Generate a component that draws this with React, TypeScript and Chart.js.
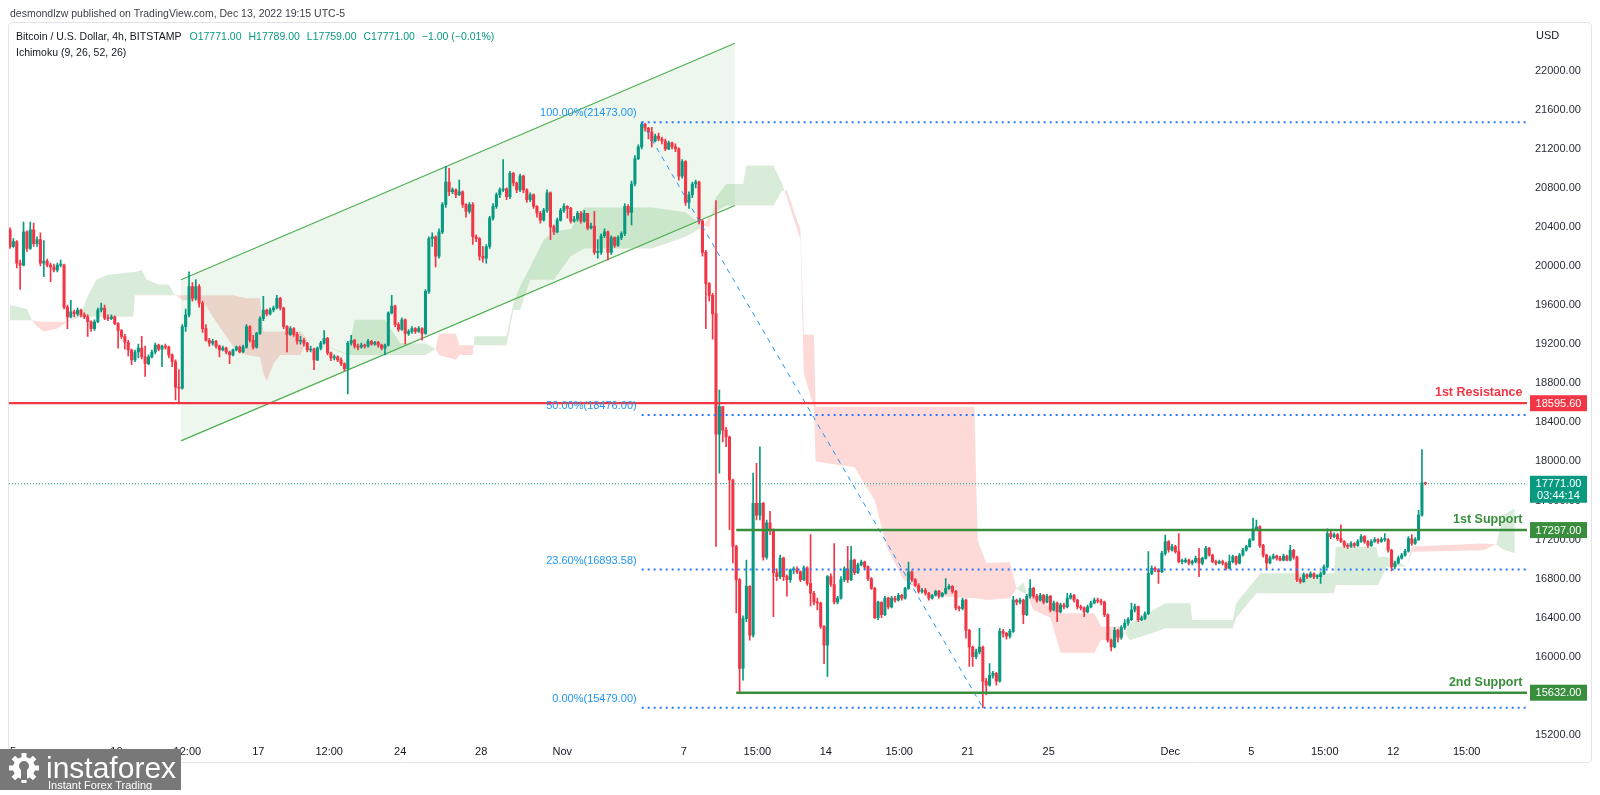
import React, { useEffect, useRef } from "react";
import { Chart, registerables } from "chart.js";

Chart.register(...registerables);

const FONT = "'Liberation Sans', Arial, sans-serif";
const UP = "#089981";
const DOWN = "#f23645";
const SUP = "#388e3c";
const FIB = "#2196f3";

// ---- 4h candles (BTC/USD, Bitstamp), index 0 = Oct 4 late, last = Dec 13 ----
const firstOpen = 20370;
const closes1 = [
  20200,20250,20030,20010,20350,20180,20370,20230,20270,20030,
  20050,20010,19990,19960,20010,20010,19580,19480,19530,19510,
  19550,19500,19480,19430,19360,19430,19550,19570,19470,19460,
  19480,19410,19340,19280,19220,19140,19040,19120,19160,19070,
  19000,19070,19120,19190,19150,19180,19170,19090,19020,18760,
  18750,19380,19500,19790,19670,19790,19620,19360,19240,19210,
  19230,19180,19140,19160,19120,19090,19140,19170,19120,19170,
];
const highs1 = [
  20390,20280,20260,20060,20450,20360,20450,20440,20300,20340,
  20260,20070,20030,20020,20030,20060,20020,19600,19650,19550,
  19570,19560,19520,19500,19440,19450,19570,19620,19600,19500,
  19500,19490,19420,19350,19300,19240,19150,19140,19200,19280,
  19180,19090,19140,19210,19200,19190,19200,19180,19100,19040,
  18940,19400,19560,19940,19830,19860,19810,19640,19400,19260,
  19250,19240,19190,19180,19170,19130,19150,19180,19180,19190,
];
const lows1 = [
  20180,20190,19980,19760,20000,20150,20170,20200,20200,20000,
  19890,19990,19840,19940,19940,19990,19560,19360,19470,19480,
  19490,19480,19460,19280,19330,19340,19420,19530,19450,19440,
  19450,19400,19160,19260,19150,19080,18990,19020,19060,19050,
  18870,18990,19060,19100,19130,18970,19150,19060,18970,18630,
  18600,18740,19330,19480,19640,19650,19580,19320,19230,19180,
  19190,19160,19070,19130,19100,19000,19080,19130,19110,19110,
];
const closes2 = [
  19380,19240,19170,19310,19460,19550,19510,19550,19570,19670,
  19570,19380,19300,19360,19300,19230,19240,19210,19140,19150,
  19040,19160,19210,19260,19110,19060,19070,19040,19000,18950,
  19210,19240,19180,19170,19190,19180,19230,19200,19220,19190,
  19160,19190,19520,19590,19400,19350,19450,19310,19330,19360,
  19330,19360,19310,19740,20280,20300,20100,20350,20630,20860,
  20760,20780,20730,20760,20630,20560,20630,20300,20280,20100,
];
const highs2 = [
  19400,19390,19290,19320,19480,19690,19560,19570,19590,19700,
  19680,19580,19390,19380,19370,19320,19280,19260,19220,19180,
  19160,19170,19230,19340,19270,19120,19090,19080,19060,19010,
  19230,19290,19250,19200,19210,19200,19250,19240,19230,19230,
  19200,19200,19530,19700,19600,19420,19470,19460,19350,19380,
  19370,19380,19370,19760,20300,20340,20310,20380,20650,21020,
  21000,20800,20790,20880,20770,20640,20650,20650,20320,20290,
];
const lows2 = [
  19160,19220,19150,19160,19300,19440,19490,19500,19530,19560,
  19550,19360,19120,19290,19280,19200,19200,19180,19120,19120,
  18940,19030,19140,19200,19090,19030,19040,19020,18980,18930,
  18690,19190,19160,19140,19160,19160,19170,19190,19190,19170,
  19140,19090,19180,19510,19380,19330,19340,19200,19290,19310,
  19310,19320,19240,19300,19720,20200,19990,20080,20330,20600,
  20720,20740,20700,20720,20600,20500,20540,20220,20250,20060,
];
const closes3 = [
  20080,20200,20490,20610,20730,20780,20790,20710,20950,20850,
  20780,20920,20780,20680,20730,20610,20540,20470,20570,20750,
  20400,20350,20470,20570,20610,20590,20460,20480,20540,20460,
  20540,20390,20410,20140,20140,20310,20350,20140,20290,20210,
  20290,20330,20610,20550,20840,21100,21220,21450,21410,21370,
  21280,21330,21300,21280,21200,21260,21220,21200,20920,21070,
  20650,20730,20840,20860,20460,20140,19820,19700,19510,18280,
];
const highs3 = [
  20200,20220,20510,20640,20750,20800,21090,20800,20970,20960,
  20860,20940,20930,20790,20750,20740,20620,20560,20590,20780,
  20760,20420,20490,20590,20640,20620,20600,20510,20560,20560,
  20570,20540,20440,20560,20270,20330,20380,20360,20310,20300,
  20310,20350,20640,20630,20870,21130,21240,21473,21460,21420,
  21420,21350,21360,21320,21300,21280,21270,21250,21210,21090,
  21080,20760,20860,20880,20870,20470,20160,19830,19720,20670,
];
const lows3 = [
  20040,20030,20180,20470,20590,20700,20760,20680,20690,20820,
  20750,20760,20750,20650,20660,20590,20500,20440,20460,20550,
  20270,20320,20340,20460,20550,20490,20440,20450,20460,20440,
  20450,20370,20380,20120,20080,20120,20290,20060,20120,20190,
  20200,20270,20310,20520,20420,20820,21090,21200,21380,21300,
  21220,21270,21280,21250,21180,21190,21200,21170,20880,20900,
  20620,20590,20700,20800,20430,20100,19360,19640,19250,17130,
];
const closes4 = [
  18560,18320,18250,17810,17130,16790,15880,16390,16720,16220,
  17570,17450,17570,17020,17370,17300,16860,16820,17010,16820,
  16790,16890,16900,16870,16790,16910,16750,16650,16560,16550,
  16310,16120,16820,16740,16560,16600,16790,16900,16790,16990,
  16860,16940,16970,16920,16800,16700,16400,16560,16430,16600,
  16510,16600,16580,16630,16600,16700,16870,16790,16730,16670,
  16680,16650,16600,16630,16670,16620,16650,16700,16720,16670,
];
const highs4 = [
  18730,18560,18350,18260,17820,17140,16800,16420,16990,16730,
  17880,17980,18150,17580,17400,17490,17310,16900,17040,17020,
  16840,16900,16920,16920,16880,16930,16920,17250,16670,16600,
  16560,16320,16830,16850,17160,16620,16820,16920,17130,17130,
  17000,16960,16990,16980,16930,16810,16710,16570,16560,16620,
  16610,16620,16620,16650,16640,16710,16970,16880,16800,16750,
  16700,16700,16660,16640,16680,16680,16660,16800,16740,16730,
];
const lows4 = [
  17880,18200,18150,17300,16960,16450,15640,15760,16360,16170,
  16200,17400,17400,16990,17000,17250,16410,16780,16800,16780,
  16620,16760,16850,16850,16770,16780,16730,16520,16530,16480,
  16290,15930,15800,16720,16540,16540,16590,16770,16760,16780,
  16840,16850,16930,16900,16780,16690,16390,16380,16400,16420,
  16490,16500,16560,16570,16580,16590,16690,16770,16720,16650,
  16650,16630,16580,16590,16620,16600,16610,16640,16690,16650,
];
const closes5 = [
  16500,16495,16580,16270,16100,16000,16050,16100,15750,15710,
  15810,15830,15750,16260,16240,16210,16260,16580,16560,16580,
  16430,16620,16700,16620,16580,16630,16560,16620,16480,16550,
  16460,16530,16510,16600,16630,16580,16510,16500,16460,16510,
  16550,16580,16570,16560,16430,16170,16100,16270,16200,16300,
  16343,16380,16479,16513,16380,16395,16440,16854,16906,16889,
  16871,17059,17179,17093,17127,17076,16974,16974,16991,16957,
];
const highs5 = [
  16680,16520,16600,16590,16280,16110,16080,16290,16110,15780,
  15930,15850,15840,16290,16280,16250,16280,16620,16590,16600,
  16590,16640,16790,16710,16640,16650,16640,16640,16630,16570,
  16560,16550,16550,16650,16650,16640,16590,16530,16510,16530,
  16570,16600,16600,16590,16570,16440,16180,16300,16280,16320,
  16380,16400,16550,16540,16520,16420,16460,17076,16930,16920,
  16900,17080,17247,17190,17150,17140,17260,17000,17010,17000,
];
const lows5 = [
  16480,16470,16480,16190,15900,15900,15980,16030,15479,15610,
  15700,15780,15710,15740,16200,16180,16190,16250,16530,16540,
  16340,16420,16600,16600,16560,16570,16540,16550,16460,16470,
  16360,16450,16490,16500,16590,16560,16490,16480,16410,16450,
  16500,16540,16550,16530,16410,16150,16060,16090,16150,16180,
  16280,16320,16370,16460,16360,16370,16380,16430,16840,16870,
  16750,16860,17040,17070,17080,17060,16960,16950,16960,16940,
];
const closes6 = [
  16974,17008,16957,17008,17110,17042,16974,16957,16974,16957,
  16906,16974,17025,16957,17042,17093,17127,17196,17310,17330,
  17140,17040,16960,17010,17030,17010,16990,17030,16990,17090,
  17020,16790,16770,16840,16820,16850,16820,16820,16850,16920,
  17260,17230,17250,17210,17180,17140,17130,17160,17140,17180,
  17230,17180,17140,17180,17200,17180,17200,17200,17090,16920,
  16960,17010,17040,17080,17210,17160,17200,17450,17780,17771,
];
const highs6 = [
  16990,17030,17110,17020,17130,17120,17050,16990,16990,16990,
  16970,17040,17040,17030,17060,17110,17140,17210,17420,17400,
  17340,17150,17050,17030,17050,17040,17030,17050,17040,17140,
  17100,17030,16810,16860,16850,16870,16860,16840,16870,16940,
  17310,17300,17270,17260,17350,17190,17160,17180,17170,17200,
  17250,17240,17190,17200,17220,17210,17220,17260,17210,17100,
  16980,17030,17060,17100,17230,17250,17220,17500,18120,17789,
];
const lows6 = [
  16940,16960,16820,16940,17000,17030,16960,16940,16950,16940,
  16890,16900,16960,16940,16950,17030,17080,17120,17190,17300,
  17120,17020,16900,16950,17000,16990,16980,16980,16980,16980,
  17000,16770,16750,16760,16800,16810,16800,16800,16750,16840,
  16910,17210,17220,17190,17170,17120,17110,17120,17120,17130,
  17170,17160,17120,17130,17170,17160,17170,17180,17070,16880,
  16900,16950,17000,17030,17070,17140,17150,17190,17440,17759,
];

// ---- Ichimoku cloud (index, span A, span B) ----
const cloudIdx = [
  0, 5, 6.5, 8, 10, 14, 17, 21, 23, 25.5,
  29, 36.5, 37, 39, 40.5, 44, 47, 48.5, 51, 57,
  60, 63, 66, 70, 74, 75, 76, 78, 80, 86,
  88, 100, 102, 111, 115.5, 123, 126, 127, 132, 133,
  137, 137.5, 147, 149, 151, 154, 158, 161, 166, 170,
  190, 200, 205, 207, 209, 212, 217, 218, 226, 228.5,
  230, 234, 235, 238, 238.5, 250, 256, 259.5, 261.5, 264.5,
  268.5, 272, 276, 285.5, 286.5, 289, 296, 298, 300, 301,
  303, 308, 311, 321, 323, 329, 330, 331.6, 342, 349.4,
  350, 362, 363, 369, 370, 392, 392.5, 404.6, 405, 407.6,
  413.5, 415, 436, 440, 442, 445.5,
];
const spanA = [
  19600, 19560, 19445, 19380, 19330, 19360, 19430, 19520, 19690, 19860,
  19910, 19940, 19940, 19960, 19860, 19810, 19810, 19720, 19650, 19650,
  19480, 19330, 19180, 19090, 19070, 18900, 18820, 19000, 19090, 19090,
  19250, 19100, 19450, 19450, 19210, 19210, 19150, 19090, 19040, 19090,
  19090, 19280, 19280, 19620, 19790, 19990, 20270, 20350, 20380, 20600,
  20600, 20550, 20420, 20400, 20700, 20840, 20840, 21030, 21030, 20850,
  20700, 20270, 18900, 18560, 18000, 17940, 17600, 17130, 16990, 16790,
  16690, 16640, 16620, 16600, 16600, 16580, 16600, 16700, 16760, 16650,
  16480, 16400, 16040, 16040, 16172, 16172, 16240, 16343, 16547, 16547,
  16377, 16377, 16550, 16803, 16855, 16855, 17127, 17127, 17025, 17025,
  16923, 17075, 17090, 17150, 17450, 17520,
];
const spanB = [
  19445, 19445, 19445, 19435, 19430, 19430, 19430, 19480, 19480, 19480,
  19480, 19480, 19700, 19700, 19700, 19700, 19700, 19700, 19700, 19700,
  19700, 19700, 19700, 19670, 19670, 19330, 19330, 19330, 19330, 19330,
  19250, 19090, 19090, 19090, 19090, 19090, 19150, 19310, 19310, 19190,
  19190, 19190, 19190, 19550, 19550, 19860, 19860, 19860, 20100, 20180,
  20180, 20300, 20400, 20500, 20560, 20620, 20620, 20620, 20620, 20770,
  20770, 20370, 19300, 19300, 18560, 18560, 18560, 18560, 18560, 18560,
  18560, 18560, 18560, 18560, 17190, 16960, 16970, 16700, 16650, 16650,
  16650, 16500, 16445, 16445, 16309, 16309, 16240, 16170, 16290, 16290,
  16290, 16290, 16400, 16650, 16650, 16650, 16735, 16735, 16735, 16923,
  16923, 17130, 17160, 17150, 17100, 17060,
];

// ---- drawings ----
const channelX = [50.6, 214.6];
const channelUpper = [19860, 22280];
const channelLower = [18210, 20620];
const fibPrices = [21473, 18476, 16893.58, 15479];
const fibLabels = ["100.00%(21473.00)", "50.00%(18476.00)", "23.60%(16893.58)", "0.00%(15479.00)"];
const fibStartIdx = 187;
const fibLowIdx = 288;
const resistance = 18595.6;
const support1 = 17297;
const support2 = 15632;
const supportStartIdx = 215;
const lastPrice = 17771;

// ---- axes ----
const priceTicks = [15200, 15600, 16000, 16400, 16800, 17200, 17600, 18000, 18400, 18800, 19200, 19600, 20000, 20400, 20800, 21200, 21600, 22000];
const timeTickPos = [0.9, 31.5, 52.5, 73.5, 94.5, 115.5, 139.5, 163.5, 199.5, 221.25, 241.5, 263.25, 283.5, 307.5, 343.5, 367.5, 389.25, 409.5, 431.25];
const timeTickLabels = ["5", "10", "12:00", "17", "12:00", "24", "28", "Nov", "7", "15:00", "14", "15:00", "21", "25", "Dec", "5", "15:00", "12", "15:00"];
const X_MIN = -0.3;
const X_MAX = 449.1;
const Y_MIN = 15148;
const Y_MAX = 22494;

const closes = [...closes1, ...closes2, ...closes3, ...closes4, ...closes5, ...closes6];
const highs = [...highs1, ...highs2, ...highs3, ...highs4, ...highs5, ...highs6];
const lows = [...lows1, ...lows2, ...lows3, ...lows4, ...lows5, ...lows6];
const opens = closes.map((c, i) => (i === 0 ? firstOpen : closes[i - 1]));
const candleColors = closes.map((c, i) => (c >= opens[i] ? UP : DOWN));

function hLine(x0: number, x1: number, y: number) {
  return [{ x: x0, y }, { x: x1, y }];
}

function drawGear(ctx: CanvasRenderingContext2D, cx: number, cy: number) {
  ctx.save();
  ctx.fillStyle = "#ffffff";
  ctx.translate(cx, cy);
  for (let k = 0; k < 8; k++) {
    ctx.save();
    ctx.rotate((k * Math.PI) / 4);
    ctx.fillRect(-2.5, -15, 5, 6);
    ctx.restore();
  }
  ctx.beginPath();
  ctx.arc(0, 0, 11, 0, Math.PI * 2);
  ctx.fill();
  ctx.fillStyle = "rgba(120,120,120,1)";
  ctx.beginPath();
  ctx.arc(0, -2, 5, 0, Math.PI * 2);
  ctx.fill();
  ctx.fillRect(-3, 2, 6, 10);
  ctx.restore();
}

const decor = {
  id: "decor",
  beforeDraw(chart: any) {
    const ctx = chart.ctx;
    ctx.save();
    ctx.fillStyle = "#ffffff";
    ctx.fillRect(0, 0, chart.width, chart.height);
    ctx.restore();
  },
  afterDraw(chart: any) {
    const ctx = chart.ctx;
    const xs = chart.scales.x;
    const ys = chart.scales.y;
    ctx.save();

    // frame
    ctx.strokeStyle = "#e0e3eb";
    ctx.lineWidth = 1;
    ctx.beginPath();
    (ctx as any).roundRect(8.5, 22.5, 1583, 740, 4);
    ctx.stroke();

    // header + legend
    ctx.textBaseline = "middle";
    ctx.textAlign = "left";
    ctx.font = `10.5px ${FONT}`;
    ctx.fillStyle = "#3c3f48";
    ctx.fillText("desmondlzw published on TradingView.com, Dec 13, 2022 19:15 UTC-5", 10, 14);
    ctx.fillStyle = "#131722";
    const title = "Bitcoin / U.S. Dollar, 4h, BITSTAMP";
    ctx.fillText(title, 16, 37);
    let lx = 16 + ctx.measureText(title).width + 8;
    ctx.fillStyle = UP;
    ["O17771.00", "H17789.00", "L17759.00", "C17771.00", "\u22121.00 (\u22120.01%)"].forEach((t) => {
      ctx.fillText(t, lx, 37);
      lx += ctx.measureText(t).width + 7;
    });
    ctx.fillStyle = "#131722";
    ctx.fillText("Ichimoku (9, 26, 52, 26)", 16, 53);

    // USD
    ctx.font = `11px ${FONT}`;
    ctx.fillStyle = "#131722";
    ctx.fillText("USD", 1536, 36);

    // fib labels
    ctx.font = `11px ${FONT}`;
    ctx.fillStyle = FIB;
    ctx.textAlign = "right";
    const fx = xs.getPixelForValue(fibStartIdx) - 5;
    fibPrices.forEach((p, k) => ctx.fillText(fibLabels[k], fx, ys.getPixelForValue(p) - 9));

    // level labels
    ctx.font = `bold 12.5px ${FONT}`;
    ctx.textBaseline = "alphabetic";
    const rx = xs.right - 4.5;
    ctx.fillStyle = DOWN;
    ctx.fillText("1st Resistance", rx, ys.getPixelForValue(resistance) - 7);
    ctx.fillStyle = SUP;
    ctx.fillText("1st Support", rx, ys.getPixelForValue(support1) - 7);
    ctx.fillText("2nd Support", rx, ys.getPixelForValue(support2) - 7);

    // price boxes on the axis
    const bx = 1530, bw = 57;
    const box = (v: number, color: string, text: string) => {
      const y = ys.getPixelForValue(v);
      ctx.fillStyle = color;
      ctx.fillRect(bx, y - 8, bw, 16);
      ctx.fillStyle = "#ffffff";
      ctx.font = `11px ${FONT}`;
      ctx.textAlign = "center";
      ctx.textBaseline = "middle";
      ctx.fillText(text, bx + bw / 2, y + 0.5);
    };
    box(resistance, DOWN, resistance.toFixed(2));
    box(support1, SUP, support1.toFixed(2));
    box(support2, SUP, support2.toFixed(2));
    const ly = ys.getPixelForValue(lastPrice);
    ctx.fillStyle = UP;
    ctx.fillRect(bx, ly - 8, bw, 27);
    ctx.fillStyle = "#ffffff";
    ctx.fillText(lastPrice.toFixed(2), bx + bw / 2, ly + 0.5);
    ctx.fillText("03:44:14", bx + bw / 2, ly + 12.5);

    // watermark
    ctx.fillStyle = "rgba(120,120,120,1)";
    ctx.fillRect(0, 749, 181, 41);
    drawGear(ctx, 24, 768);
    ctx.fillStyle = "#ffffff";
    ctx.textAlign = "left";
    ctx.textBaseline = "alphabetic";
    ctx.font = `30px ${FONT}`;
    ctx.fillText("instaforex", 46, 778);
    ctx.font = `11px ${FONT}`;
    ctx.fillText("Instant Forex Trading", 48, 789);

    ctx.restore();
  },
};

export default function App() {
  const ref = useRef<HTMLCanvasElement>(null);
  useEffect(() => {
    const canvas = ref.current;
    if (!canvas) return;
    Chart.defaults.font.family = FONT;
    Chart.defaults.font.size = 11;
    Chart.defaults.color = "#131722";

    const lineBase = { type: "line" as const, pointRadius: 0, tension: 0, borderWidth: 1 };
    const datasets: any[] = [
      { ...lineBase, label: "spanB", data: cloudIdx.map((x, k) => ({ x, y: spanB[k] })), borderColor: "transparent", fill: false, order: 30 },
      {
        ...lineBase, label: "spanA", data: cloudIdx.map((x, k) => ({ x, y: spanA[k] })), borderColor: "transparent",
        fill: { target: 0, above: "rgba(67,160,71,0.2)", below: "rgba(244,67,54,0.2)" }, order: 29,
      },
      { ...lineBase, label: "chLow", data: channelX.map((x, k) => ({ x, y: channelLower[k] })), borderColor: "#4caf50", borderWidth: 1.2, fill: false, order: 28 },
      {
        ...lineBase, label: "chUp", data: channelX.map((x, k) => ({ x, y: channelUpper[k] })), borderColor: "#4caf50", borderWidth: 1.2,
        fill: { target: 2, above: "rgba(76,175,80,0.1)", below: "rgba(76,175,80,0.1)" }, order: 27,
      },
      {
        type: "bar", label: "wicks", data: closes.map((c, i) => ({ x: i, y: [lows[i], highs[i]] })),
        backgroundColor: candleColors, barThickness: 1, grouped: false, order: 20,
      },
      {
        type: "bar", label: "bodies", data: closes.map((c, i) => ({ x: i, y: [opens[i], c] })),
        backgroundColor: candleColors, barThickness: 2.4, minBarLength: 1, grouped: false, order: 19,
      },
      {
        ...lineBase, label: "trend", data: [{ x: fibStartIdx, y: fibPrices[0] }, { x: fibLowIdx, y: fibPrices[3] }],
        borderColor: FIB, borderDash: [5, 5], fill: false, order: 10,
      },
      ...fibPrices.map((p) => ({
        ...lineBase, label: "fib", data: hLine(fibStartIdx, X_MAX, p), borderColor: "#2979ff", borderWidth: 2, borderDash: [2, 4], fill: false, order: 9,
      })),
      { ...lineBase, label: "last", data: hLine(X_MIN, X_MAX, lastPrice), borderColor: UP, borderDash: [1, 2], fill: false, order: 8 },
      { ...lineBase, label: "res", data: hLine(X_MIN, X_MAX, resistance), borderColor: DOWN, borderWidth: 2.2, fill: false, order: 5 },
      { ...lineBase, label: "s1", data: hLine(supportStartIdx, X_MAX, support1), borderColor: SUP, borderWidth: 2.6, fill: false, order: 5 },
      { ...lineBase, label: "s2", data: hLine(supportStartIdx, X_MAX, support2), borderColor: SUP, borderWidth: 2.6, fill: false, order: 5 },
    ];

    const chart = new Chart(canvas, {
      type: "bar",
      data: { datasets },
      plugins: [decor],
      options: {
        animation: false,
        responsive: false,
        events: [],
        layout: { padding: { left: 9, top: 22.4, right: 0, bottom: 0 } },
        plugins: { legend: { display: false }, tooltip: { enabled: false } },
        scales: {
          x: {
            type: "linear",
            min: X_MIN,
            max: X_MAX,
            offset: false,
            grid: { display: false, drawTicks: false },
            border: { display: false },
            afterBuildTicks: (s: any) => { s.ticks = timeTickPos.map((v) => ({ value: v })); },
            afterFit: (s: any) => { s.height = 55; },
            ticks: {
              autoSkip: false,
              maxRotation: 0,
              padding: 5,
              color: "#131722",
              font: { size: 11 },
              callback: (_v: any, i: number) => timeTickLabels[i] ?? "",
            },
          },
          y: {
            type: "linear",
            position: "right",
            min: Y_MIN,
            max: Y_MAX,
            grid: { display: false, drawTicks: false },
            border: { display: false },
            afterBuildTicks: (s: any) => { s.ticks = priceTicks.map((v) => ({ value: v })); },
            afterFit: (s: any) => { s.width = 73; },
            ticks: {
              autoSkip: false,
              padding: 8,
              color: "#2a2e39",
              font: { size: 11 },
              callback: (v: any) => Number(v).toFixed(2),
            },
          },
        },
      } as any,
    });
    return () => chart.destroy();
  }, []);

  return (
    <div style={{ position: "absolute", left: 0, top: 0, width: 1600, height: 795, background: "#fff" }}>
      <canvas ref={ref} width={1600} height={795} style={{ width: 1600, height: 795, display: "block" }} />
    </div>
  );
}
